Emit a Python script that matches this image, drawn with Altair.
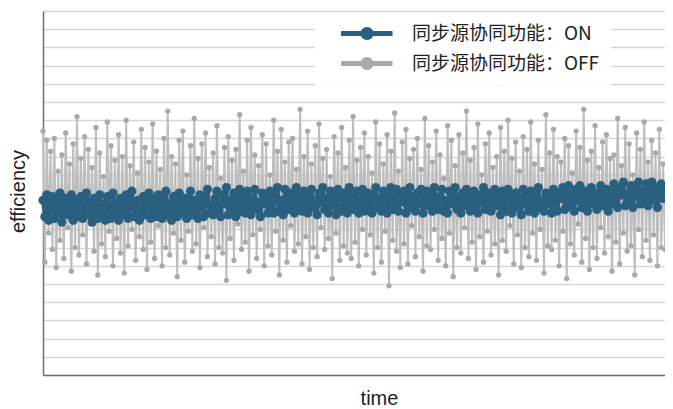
import altair as alt
import pandas as pd

LABEL_ON = "同步源协同功能：ON"
LABEL_OFF = "同步源协同功能：OFF"

off_values = [
    13.4, 6.2, 12.9, 7.8, 12.3, 6.9, 13.0, 5.9, 11.2, 7.4,
    12.1, 6.4, 13.3, 8.1, 11.6, 5.7, 12.7, 7.0, 14.2, 6.6,
    11.9, 7.7, 13.1, 6.1, 12.4, 8.3, 11.4, 6.8, 13.6, 5.5,
    12.2, 7.2, 10.9, 6.5, 13.9, 7.9, 12.6, 6.0, 11.8, 7.5,
    13.2, 6.7, 12.0, 5.6, 14.0, 7.1, 11.5, 8.0, 12.8, 6.3,
    11.1, 7.6, 13.5, 6.9, 12.5, 5.8, 11.7, 7.3, 13.8, 6.4,
    12.3, 8.2, 11.3, 6.0, 13.0, 7.0, 14.5, 6.6, 12.0, 7.8,
    11.6, 5.4, 12.9, 7.4, 13.4, 6.2, 11.0, 7.9, 12.6, 6.8,
    14.1, 7.2, 11.9, 5.9, 12.7, 8.1, 13.3, 6.5, 11.4, 7.6,
    12.2, 6.1, 13.7, 7.0, 10.8, 6.7, 12.5, 5.2, 13.1, 7.5,
    11.8, 6.3, 12.4, 8.3, 14.3, 6.9, 11.2, 7.3, 12.9, 5.7,
    13.6, 7.7, 12.1, 6.4, 11.5, 8.0, 13.2, 6.0, 12.7, 7.1,
    11.0, 6.6, 14.0, 7.9, 12.3, 5.5, 13.5, 7.4, 11.7, 6.2,
    12.8, 8.2, 13.0, 6.8, 11.3, 7.2, 14.6, 6.1, 12.0, 7.6,
    13.4, 5.8, 11.6, 7.0, 12.6, 6.5, 13.8, 8.1, 11.9, 6.9,
    12.4, 7.5, 10.9, 5.3, 13.1, 7.8, 12.2, 6.3, 13.6, 7.1,
    11.4, 6.7, 12.9, 6.4, 14.2, 7.3, 11.8, 6.0, 12.5, 8.0,
    13.3, 6.6, 12.0, 7.7, 11.1, 5.6, 13.9, 7.0, 12.7, 6.2,
    11.6, 7.9, 13.2, 4.9, 12.3, 7.4, 14.4, 6.8, 11.2, 5.9,
    12.8, 7.2, 13.5, 6.1, 11.9, 8.2, 12.4, 6.5, 13.0, 7.6,
    11.3, 5.7, 14.1, 7.1, 12.6, 6.9, 11.7, 8.0, 13.4, 6.3,
    12.1, 7.5, 10.8, 6.0, 13.7, 7.8, 12.9, 5.4, 11.5, 7.0,
    13.2, 6.7, 12.2, 8.1, 14.5, 6.4, 11.8, 7.3, 12.5, 5.8,
    13.8, 7.6, 11.0, 6.2, 12.7, 7.9, 13.3, 6.6, 11.4, 7.2,
    12.0, 5.5, 13.6, 7.4, 12.3, 6.8, 14.0, 8.2, 11.9, 6.1,
    12.8, 7.7, 11.2, 5.9, 13.1, 7.0, 12.4, 6.5, 13.9, 7.8,
    11.6, 6.3, 12.9, 8.0, 11.3, 5.6, 14.3, 7.1, 12.2, 6.9,
    13.5, 7.4, 12.0, 6.0, 11.7, 7.9, 13.0, 5.3, 12.6, 7.2,
    11.1, 6.6, 13.4, 8.3, 12.5, 6.2, 14.6, 7.5, 11.8, 5.8,
    12.3, 7.0, 13.7, 6.4, 11.4, 8.1, 12.8, 6.7, 13.2, 7.6,
    11.9, 5.7, 12.1, 7.3, 14.1, 6.1, 11.5, 7.8, 13.6, 6.8,
    12.7, 7.1, 11.0, 5.5, 13.3, 8.0, 12.4, 6.5, 13.9, 7.4,
    11.7, 6.3, 12.9, 7.7, 12.2, 6.0, 13.5, 7.0, 11.6, 6.9,
]

on_values = [
    9.6, 8.7, 9.9, 8.5, 9.3, 9.8, 8.6, 9.5, 8.9, 10.0,
    8.4, 9.4, 9.7, 8.8, 9.1, 9.9, 8.5, 9.6, 8.7, 9.3,
    9.8, 8.6, 9.2, 10.0, 8.8, 9.5, 8.4, 9.7, 9.0, 8.6,
    9.9, 8.7, 9.4, 8.5, 9.8, 9.1, 8.6, 10.0, 8.9, 9.5,
    8.5, 9.7, 9.2, 8.8, 9.9, 8.6, 9.4, 10.1, 8.7, 9.3,
    9.6, 8.5, 9.0, 9.8, 8.8, 9.5, 10.0, 8.6, 9.2, 9.7,
    8.7, 9.9, 9.1, 8.6, 9.6, 10.1, 8.8, 9.4, 8.5, 9.8,
    9.2, 8.7, 10.0, 9.5, 8.9, 9.7, 8.6, 9.3, 10.1, 8.8,
    9.6, 9.0, 8.6, 9.9, 9.4, 8.7, 9.8, 10.2, 8.9, 9.3,
    8.8, 9.7, 10.1, 9.0, 8.7, 9.9, 9.4, 10.3, 8.8, 9.6,
    9.1, 10.0, 8.7, 9.5, 10.2, 9.0, 9.8, 8.9, 10.1, 9.3,
    8.8, 9.7, 10.2, 9.1, 9.5, 8.7, 10.0, 9.4, 9.8, 8.9,
    10.1, 9.2, 8.9, 9.9, 10.3, 9.0, 9.6, 8.8, 10.2, 9.5,
    9.1, 10.0, 9.7, 8.9, 10.3, 9.3, 9.8, 9.0, 10.1, 9.4,
    8.9, 9.9, 10.2, 9.2, 9.6, 8.8, 10.0, 9.5, 10.3, 9.1,
    9.7, 8.9, 10.1, 9.3, 9.9, 8.8, 10.2, 9.6, 9.0, 10.0,
    9.4, 8.9, 10.3, 9.7, 9.1, 9.8, 10.1, 8.9, 9.5, 10.2,
    9.0, 9.6, 10.0, 9.3, 8.9, 9.9, 10.3, 9.2, 9.7, 9.0,
    10.1, 9.4, 8.9, 9.8, 10.3, 9.1, 9.6, 10.2, 9.0, 9.9,
    9.5, 10.1, 8.9, 9.7, 10.3, 9.2, 9.8, 9.0, 10.0, 9.4,
    10.2, 8.9, 9.6, 10.1, 9.3, 9.9, 9.0, 10.3, 9.5, 9.1,
    9.8, 10.2, 9.0, 9.6, 8.9, 10.1, 9.4, 9.9, 10.3, 9.1,
    9.7, 8.9, 10.0, 9.3, 10.2, 9.6, 9.0, 9.8, 10.1, 9.2,
    8.9, 9.9, 9.5, 10.3, 9.1, 9.7, 10.0, 9.0, 9.6, 10.2,
    9.3, 9.9, 8.8, 10.1, 9.5, 9.0, 10.2, 9.6, 8.9, 9.8,
    10.0, 9.2, 9.7, 8.8, 10.2, 9.4, 9.9, 9.0, 10.1, 9.5,
    8.9, 9.8, 10.3, 9.2, 9.6, 9.0, 10.0, 9.4, 9.9, 8.9,
    10.2, 9.5, 9.0, 10.0, 9.7, 10.3, 9.1, 9.8, 10.4, 9.3,
    9.9, 9.0, 10.2, 9.6, 10.4, 9.2, 9.8, 10.1, 9.0, 9.7,
    10.3, 9.4, 10.0, 9.1, 9.9, 10.4, 9.3, 9.7, 10.2, 9.0,
    10.1, 9.4, 10.5, 9.7, 9.2, 10.3, 9.9, 10.6, 9.3, 10.0,
    9.6, 10.4, 9.2, 10.2, 9.8, 10.6, 9.4, 10.1, 9.7, 10.5,
    9.3, 10.0, 10.6, 9.6, 10.3, 9.2, 9.9, 10.5, 9.7, 10.2,
]

series_domain = [LABEL_ON, LABEL_OFF]
series_colors = ["#29607f", "#a9a9ab"]
grid_values = list(range(0, 21))

df = pd.concat([
    pd.DataFrame({"t": range(len(off_values)), "eff": off_values, "series": LABEL_OFF}),
    pd.DataFrame({"t": range(len(on_values)), "eff": on_values, "series": LABEL_ON}),
], ignore_index=True)

n_max = max(len(off_values), len(on_values)) - 1

x_enc = alt.X("t:Q", scale=alt.Scale(domain=[0, n_max], nice=False, zero=False),
              axis=alt.Axis(title="time", labels=False, ticks=False, grid=False,
                            domain=True, domainColor="#707070", domainWidth=1.5,
                            titleX=336, titleY=23, titleBaseline="middle",
                            titleFont="Liberation Sans", titleFontSize=20,
                            titleFontWeight="normal", titleColor="#222222"))
y_enc = alt.Y("eff:Q", scale=alt.Scale(domain=[0, 20], nice=False, zero=False),
              axis=alt.Axis(title="efficiency", labels=False, ticks=False, grid=True,
                            values=grid_values, gridColor="#dbd5d2", gridWidth=1.5,
                            domain=True, domainColor="#707070", domainWidth=1.5,
                            titleX=-25, titleY=180, titleBaseline="middle",
                            titleFont="Liberation Sans", titleFontSize=20,
                            titleFontWeight="normal", titleColor="#222222"))

color_scale = alt.Scale(domain=series_domain, range=series_colors)

# line-with-dot legend glyph (unit = 6.5 px), drawn to the right of the symbol slot
symbol_path = ("M0.85,-0.385L8.77,-0.385L8.77,0.385L0.85,0.385Z "
               "M3.85,0A1,1 0 1,1 5.85,0A1,1 0 1,1 3.85,0Z")

legend = alt.Legend(title=None, orient="none", legendX=272, legendY=2,
                    fillColor="white", padding=11, symbolType=symbol_path,
                    symbolSize=169, symbolStrokeWidth=0, symbolOpacity=1,
                    labelFont="Noto Sans CJK SC", labelFontSize=19,
                    labelColor="#222222", labelOffset=67, rowPadding=10,
                    labelLimit=400)

base = alt.Chart(df)

off_line = base.transform_filter(alt.datum.series == LABEL_OFF).mark_line(
    strokeWidth=2, color="#bebebe").encode(x=x_enc, y=y_enc)
off_pts = base.transform_filter(alt.datum.series == LABEL_OFF).mark_circle(
    size=28, opacity=1).encode(
    x=x_enc, y=y_enc,
    color=alt.Color("series:N", scale=color_scale, legend=legend))
on_line = base.transform_filter(alt.datum.series == LABEL_ON).mark_line(
    strokeWidth=4).encode(
    x=x_enc, y=y_enc,
    color=alt.Color("series:N", scale=color_scale, legend=None))
on_pts = base.transform_filter(alt.datum.series == LABEL_ON).mark_circle(
    size=85, opacity=1).encode(
    x=x_enc, y=y_enc,
    color=alt.Color("series:N", scale=color_scale, legend=None))

chart = alt.layer(off_line, off_pts, on_line, on_pts).properties(
    width=622, height=364,
    autosize=alt.AutoSizeParams(type="none"),
    padding={"left": 35, "top": 3, "right": 0, "bottom": 32},
).configure_view(stroke=None).configure(background="white")

chart.save("out.html", embed_options={"renderer": "svg", "actions": False})
